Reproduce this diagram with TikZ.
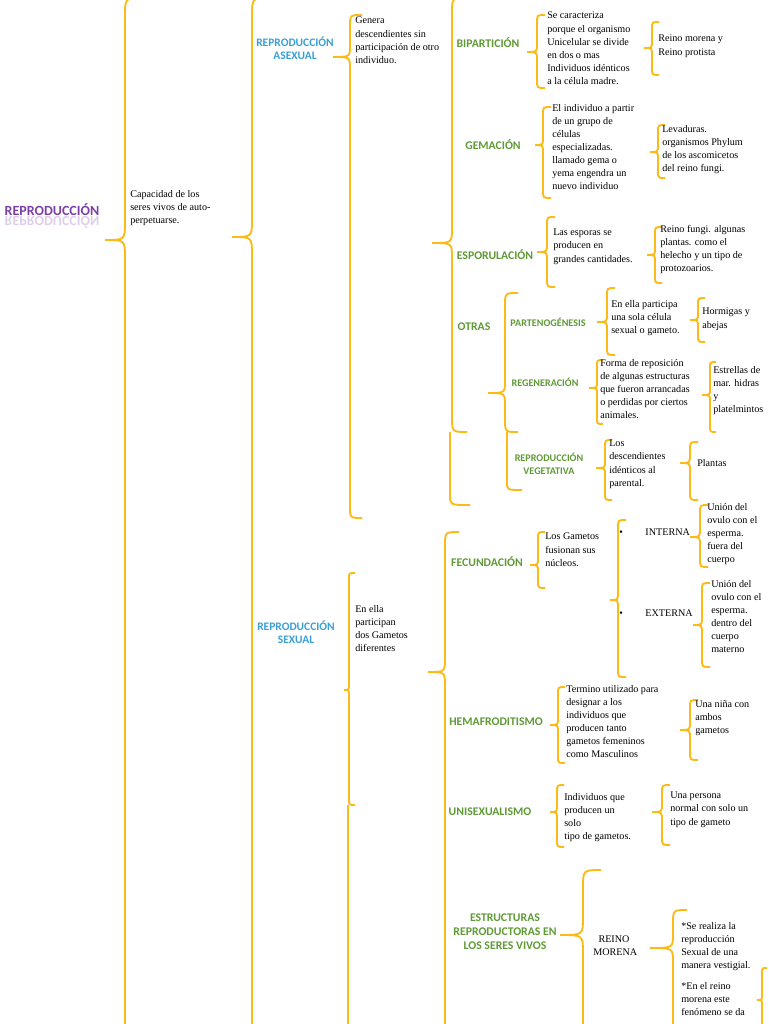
\documentclass[tikz,border=0pt]{standalone}
\usepackage{fontspec}
\setmainfont{Liberation Serif}
\newfontfamily\hd{Carlito}
\definecolor{brc}{HTML}{FBBA16}
\definecolor{grn}{HTML}{5E9A35}
\definecolor{blu}{HTML}{3A9FD6}
\definecolor{pur}{HTML}{7A3FA8}
\newcommand\lbr[6]{%
\draw[br] ({#1+#6},#2) .. controls (#1,#2) .. (#1,{#2+#6}) -- (#1,{#3-#6}) .. controls (#1,#3) .. (#5,#3) .. controls (#1,#3) .. (#1,{#3+#6}) -- (#1,{#4-#6}) .. controls (#1,#4) .. ({#1+#6},#4);}
\begin{document}
\begin{tikzpicture}[x=0.75pt,y=-0.75pt,
  br/.style={draw=brc,line width=1.4pt},
  txt/.style={anchor=north west,align=left,inner sep=0pt,font=\fontsize{7.6}{9.8}\selectfont},
  hg/.style={align=center,inner sep=0pt,text=grn,font=\hd\bfseries\fontsize{8.8}{10.5}\selectfont},
  hgs/.style={align=center,inner sep=0pt,text=grn,font=\hd\bfseries\fontsize{7.6}{9.5}\selectfont},
  hb/.style={align=center,inner sep=0pt,text=blu,font=\hd\bfseries\fontsize{8.6}{10}\selectfont}]
\useasboundingbox (0,0) rectangle (768,1024);
\clip (0,0) rectangle (768,1024);
% level braces
\lbr{125}{-2}{240}{1040}{105}{18}
\lbr{252}{-2}{237}{1040}{232}{18}
\lbr{350}{15}{57}{518}{333}{12}
\lbr{452}{-2}{243}{432}{432}{15}
\draw[br] (450,432) -- (450,495) .. controls (450,505) .. (470,505);
\draw[br] (507,432) -- (507,482) .. controls (507,490) .. (522,490);
\lbr{349}{573}{690}{805}{344}{6}
\draw[br] (348,805) -- (348,1030);
\lbr{445}{532}{672}{1040}{428}{14}
% asexual
\lbr{537}{15}{52}{88}{527}{8}
\lbr{652}{22}{48}{75}{644}{7}
\lbr{543}{107}{145}{198}{535}{8}
\lbr{658}{125}{152}{178}{650}{7}
\lbr{547}{217}{252}{287}{537}{8}
\lbr{655}{227}{255}{283}{647}{7}
\lbr{505}{293}{393}{432}{488}{13}
\lbr{607}{288}{322}{355}{597}{8}
\lbr{698}{298}{320}{342}{690}{7}
\lbr{597}{360}{388}{424}{589}{6}
\lbr{710}{362}{395}{432}{702}{6}
\lbr{605}{440}{468}{500}{596}{7}
\lbr{690}{442}{463}{500}{680}{8}
% sexual
\lbr{538}{532}{565}{588}{530}{7}
\lbr{618}{520}{600}{677}{610}{8}
\lbr{700}{505}{537}{567}{690}{8}
\lbr{702}{583}{625}{667}{693}{8}
\lbr{558}{687}{725}{763}{550}{7}
\lbr{690}{700}{730}{760}{680}{8}
\lbr{557}{785}{812}{847}{550}{7}
\lbr{662}{785}{812}{845}{652}{8}
\lbr{583}{870}{935}{1040}{560}{18}
\lbr{673}{910}{948}{1040}{650}{14}
\lbr{762}{968}{1000}{1040}{757}{5}
% titles
\node[text=pur,font=\hd\bfseries\fontsize{10.5}{12}\selectfont,inner sep=0pt] (rep) at (52,210) {REPRODUCCIÓN};
\node[text=pur,opacity=0.25,yscale=-1,font=\hd\bfseries\fontsize{10.5}{12}\selectfont,inner sep=0pt] (repr) at (52,222) {REPRODUCCIÓN};
\node[txt] (cap) at (130,190) {Capacidad de los\\seres vivos de auto-\\perpetuarse.};
\node[hb] (asx) at (295,48) {REPRODUCCIÓN\\ASEXUAL};
\node[txt] (gen) at (355,17) {Genera\\descendientes sin\\participación de otro\\individuo.};
\node[hg] (bip) at (488,43) {BIPARTICIÓN};
\node[txt] (bipt) at (547,12) {Se caracteriza\\porque el organismo\\Unicelular se divide\\en dos o mas\\Individuos idénticos\\a la célula madre.};
\node[txt] (bipr) at (658,35) {Reino morena y\\Reino protista};
\node[hg] (gem) at (493,145) {GEMACIÓN};
\node[txt] (gemt) at (552,104) {El individuo a partir\\de un grupo de\\células\\especializadas.\\llamado gema o\\yema engendra un\\nuevo individuo};
\node[txt] (gemr) at (662,125) {Levaduras.\\organismos Phylum\\de los ascomicetos\\del reino fungi.};
\node[hg] (esp) at (495,255) {ESPORULACIÓN};
\node[txt] (espt) at (553,229) {Las esporas se\\producen en\\grandes cantidades.};
\node[txt] (espr) at (660,225) {Reino fungi. algunas\\plantas. como el\\helecho y un tipo de\\protozoarios.};
\node[hg] (otr) at (474,327) {OTRAS};
\node[hgs] (par) at (548,322) {PARTENOGÉNESIS};
\node[txt] (part) at (611,300) {En ella participa\\una sola célula\\sexual o gameto.};
\node[txt] (parr) at (702,308) {Hormigas y\\abejas};
\node[hgs] (reg) at (545,382) {REGENERACIÓN};
\node[txt] (regt) at (600,359) {Forma de reposición\\de algunas estructuras\\que fueron arrancadas\\o perdidas por ciertos\\animales.};
\node[txt] (regr) at (713,366) {Estrellas de\\mar. hidras\\y\\platelmintos};
\node[hgs] (veg) at (549,464) {REPRODUCCIÓN\\VEGETATIVA};
\node[txt] (vegt) at (609,440) {Los\\descendientes\\idénticos al\\parental.};
\node[txt,anchor=west] (vegr) at (697,463) {Plantas};
\node[hb] (sex) at (296,632) {REPRODUCCIÓN\\SEXUAL};
\node[txt] (sext) at (355,605) {En ella\\participan\\dos Gametos\\diferentes};
\node[hg] (fec) at (487,562) {FECUNDACIÓN};
\node[txt] (fect) at (545,533) {Los Gametos\\fusionan sus\\núcleos.};
\node[txt,anchor=west] (int) at (619,532) {•\hspace{17pt}INTERNA};
\node[txt,anchor=west] (ext) at (619,613) {•\hspace{17pt}EXTERNA};
\node[txt] (intr) at (707,503) {Unión del\\ovulo con el\\esperma.\\fuera del\\cuerpo};
\node[txt] (extr) at (711,580) {Unión del\\ovulo con el\\esperma.\\dentro del\\cuerpo\\materno};
\node[hg] (hem) at (496,722) {HEMAFRODITISMO};
\node[txt] (hemt) at (566,685) {Termino utilizado para\\designar a los\\individuos que\\producen tanto\\gametos femeninos\\como Masculinos};
\node[txt] (hemr) at (695,700) {Una niña con\\ambos\\gametos};
\node[hg] (uni) at (490,812) {UNISEXUALISMO};
\node[txt] (unit) at (564,793) {Individuos que\\producen un\\solo\\tipo de gametos.};
\node[txt] (unir) at (670,792) {Una persona\\normal con solo un\\tipo de gameto};
\node[hg] (est) at (505,932) {ESTRUCTURAS\\REPRODUCTORAS EN\\LOS SERES VIVOS};
\node[txt,align=center,anchor=center] (rm) at (614,946) {REINO\\\ MORENA};
\node[txt] (rmt) at (681,922) {*Se realiza la\\reproducción\\Sexual de una\\manera vestigial.\\[6pt]*En el reino\\morena este\\fenómeno se da};
\end{tikzpicture}
\end{document}
